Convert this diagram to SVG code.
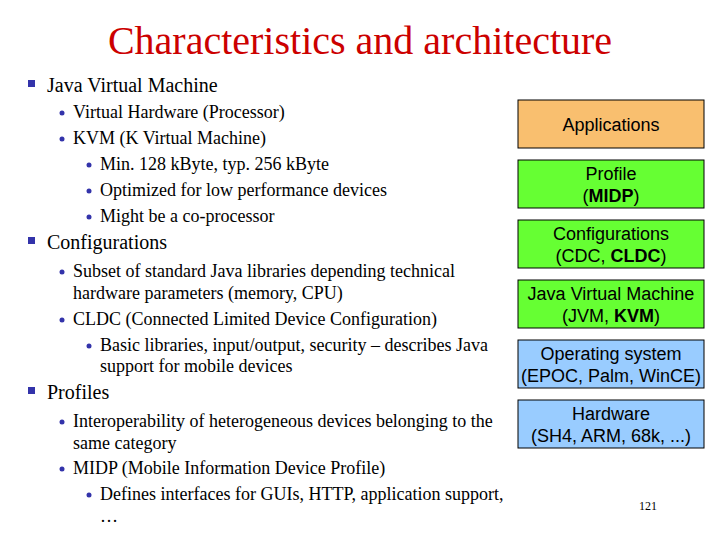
<svg xmlns="http://www.w3.org/2000/svg" width="720" height="540" viewBox="0 0 720 540">
<style>
.t{font-family:"Liberation Serif",serif;fill:#000}
.l1{font-size:20px}.l2{font-size:18px}
.b{font-family:"Liberation Sans",sans-serif;font-size:18px;text-anchor:middle;fill:#000}
.bx{stroke:#000;stroke-width:1}
.sq{fill:#3333aa}.dot{fill:#3333aa}
</style>
<rect width="720" height="540" fill="#fff"/>
<text x="360" y="54" text-anchor="middle" font-family="Liberation Serif,serif" font-size="40" fill="#cc0000">Characteristics and architecture</text>
<g class="t">
<rect class="sq" x="28" y="80" width="7" height="7"/><text class="t l1" x="47" y="92">Java Virtual Machine</text>
<circle class="dot" cx="62" cy="113" r="2.5"/><text class="t l2" x="73" y="118">Virtual Hardware (Processor)</text>
<circle class="dot" cx="62" cy="139" r="2.5"/><text class="t l2" x="73" y="144">KVM (K Virtual Machine)</text>
<circle class="dot" cx="89" cy="165" r="2.5"/><text class="t l2" x="100" y="170">Min. 128 kByte, typ. 256 kByte</text>
<circle class="dot" cx="89" cy="191" r="2.5"/><text class="t l2" x="100" y="196">Optimized for low performance devices</text>
<circle class="dot" cx="89" cy="217" r="2.5"/><text class="t l2" x="100" y="222">Might be a co-processor</text>
<rect class="sq" x="28" y="237" width="7" height="7"/><text class="t l1" x="47" y="249">Configurations</text>
<circle class="dot" cx="62" cy="272" r="2.5"/><text class="t l2" x="73" y="277">Subset of standard Java libraries depending technical</text>
<text class="t l2" x="73" y="299">hardware parameters (memory, CPU)</text>
<circle class="dot" cx="62" cy="320" r="2.5"/><text class="t l2" x="73" y="325">CLDC (Connected Limited Device Configuration)</text>
<circle class="dot" cx="89" cy="346" r="2.5"/><text class="t l2" x="100" y="351">Basic libraries, input/output, security – describes Java</text>
<text class="t l2" x="100" y="372">support for mobile devices</text>
<rect class="sq" x="28" y="387" width="7" height="7"/><text class="t l1" x="47" y="399">Profiles</text>
<circle class="dot" cx="62" cy="422" r="2.5"/><text class="t l2" x="73" y="427">Interoperability of heterogeneous devices belonging to the</text>
<text class="t l2" x="73" y="449">same category</text>
<circle class="dot" cx="62" cy="469" r="2.5"/><text class="t l2" x="73" y="474">MIDP (Mobile Information Device Profile)</text>
<circle class="dot" cx="89" cy="495" r="2.5"/><text class="t l2" x="100" y="500">Defines interfaces for GUIs, HTTP, application support,</text>
<text class="t l2" x="100" y="522">…</text>
</g>
<g id="applications"><rect class="bx" x="518" y="100" width="186" height="48" fill="#f9bf6f"/><text class="b" x="611" y="131">Applications</text></g>
<g id="profile"><rect class="bx" x="518" y="160" width="186" height="48" fill="#66ff33"/><text class="b" x="611" y="180">Profile</text><text class="b" x="611" y="202">(<tspan font-weight="bold">MIDP</tspan>)</text></g>
<g id="config"><rect class="bx" x="518" y="220" width="186" height="48" fill="#66ff33"/><text class="b" x="611" y="240">Configurations</text><text class="b" x="611" y="262">(CDC, <tspan font-weight="bold">CLDC</tspan>)</text></g>
<g id="jvm"><rect class="bx" x="518" y="280" width="186" height="48" fill="#66ff33"/><text class="b" x="611" y="300">Java Virtual Machine</text><text class="b" x="611" y="322">(JVM, <tspan font-weight="bold">KVM</tspan>)</text></g>
<g id="os"><rect class="bx" x="518" y="340" width="186" height="48" fill="#99ccff"/><text class="b" x="611" y="360">Operating system</text><text class="b" x="611" y="382">(EPOC, Palm, WinCE)</text></g>
<g id="hw"><rect class="bx" x="518" y="400" width="186" height="48" fill="#99ccff"/><text class="b" x="611" y="420">Hardware</text><text class="b" x="611" y="442">(SH4, ARM, 68k, ...)</text></g>
<g id="connectors"></g>
<text x="648" y="510" text-anchor="middle" font-family="Liberation Serif,serif" font-size="12">121</text>
</svg>
